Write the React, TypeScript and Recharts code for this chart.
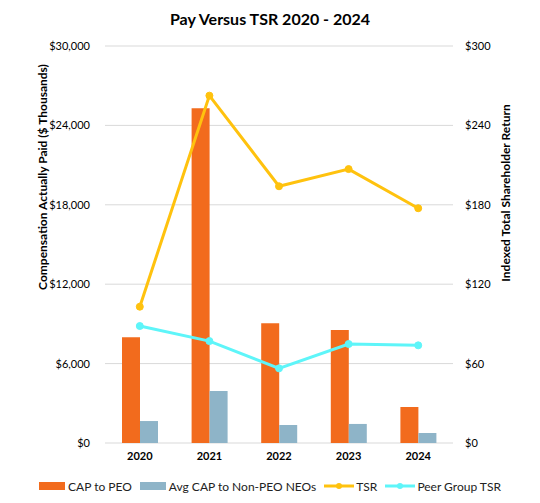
import React from 'react';
import { ComposedChart, Bar, Line, XAxis, YAxis, CartesianGrid, Legend } from 'recharts';

const years = ['2020', '2021', '2022', '2023', '2024'];
const capPeo = [8000, 25300, 9050, 8540, 2720];
const capNeo = [1660, 3930, 1360, 1440, 755];
const tsr = [103, 262.5, 194, 207, 177.4];
const peerTsr = [88.4, 77, 56.4, 74.8, 73.8];
const leftTicks = [0, 6000, 12000, 18000, 24000, 30000];
const rightTicks = [0, 60, 120, 180, 240, 300];
const seriesOrder = ['CAP to PEO', 'Avg CAP to Non-PEO NEOs', 'TSR', 'Peer Group TSR'];

const data = years.map((y, i) => ({
  year: y,
  capPeo: capPeo[i],
  capNeo: capNeo[i],
  tsr: tsr[i],
  peer: peerTsr[i],
}));

const FONT = 'Lato, "Open Sans", sans-serif';
const ORANGE = '#F26B1D';
const BLUE = '#8EB4C8';
const YELLOW = '#FFC20E';
const CYAN = '#5EF5F9';

const renderLegend = (props: any) => {
  const items = [...(props.payload || [])].sort(
    (a: any, b: any) => seriesOrder.indexOf(a.value) - seriesOrder.indexOf(b.value)
  );
  return (
    <div style={{ display: 'flex', justifyContent: 'center', alignItems: 'center', height: 20, fontFamily: FONT, fontSize: 12, color: '#222' }}>
      {items.map((it: any, i: number) => (
        <div key={i} style={{ display: 'flex', alignItems: 'center', marginRight: i < items.length - 1 ? 8 : 0 }}>
          {it.type === 'line' ? (
            <svg width={30} height={10} style={{ marginRight: 2 }}>
              <line x1={0} y1={5} x2={30} y2={5} stroke={it.color} strokeWidth={3} />
              <circle cx={15} cy={5} r={3} fill={it.color} />
            </svg>
          ) : (
            <svg width={26} height={10} style={{ marginRight: 3 }}>
              <rect x={0} y={1} width={26} height={8} fill={it.color} />
            </svg>
          )}
          <span>{it.value}</span>
        </div>
      ))}
    </div>
  );
};

export default function App() {
  return (
    <div style={{ position: 'absolute', left: 0, top: 0, width: 540, height: 503, background: '#fff' }}>
      <div style={{ position: 'absolute', left: 0, top: 9, width: 540, textAlign: 'center', fontFamily: FONT, fontWeight: 700, fontSize: 16, color: '#000' }}>
        Pay Versus TSR 2020 - 2024
      </div>
      <div style={{ position: 'absolute', left: 42, top: 177, transform: 'translate(-50%, -50%) rotate(-90deg)', whiteSpace: 'nowrap', fontFamily: FONT, fontWeight: 700, fontSize: 12, color: '#000' }}>
        Compensation Actually Paid ($ Thousands)
      </div>
      <div style={{ position: 'absolute', left: 505, top: 193, transform: 'translate(-50%, -50%) rotate(-90deg)', whiteSpace: 'nowrap', fontFamily: FONT, fontWeight: 700, fontSize: 12, color: '#000' }}>
        Indexed Total Shareholder Return
      </div>
      <ComposedChart
        width={540}
        height={503}
        data={data}
        margin={{ top: 46, right: 27, left: 45, bottom: 20 }}
        barGap={0}
        style={{ position: 'absolute', left: 0, top: 0 }}
      >
        <CartesianGrid horizontal vertical={false} stroke="#D9D9D9" yAxisId="left" />
        <XAxis
          dataKey="year"
          axisLine={false}
          tickLine={false}
          tickSize={0}
          tickMargin={9}
          height={20}
          tick={{ fontFamily: FONT, fontSize: 11, fontWeight: 700, fill: '#000' }}
        />
        <YAxis
          yAxisId="left"
          domain={[0, 30000]}
          ticks={leftTicks}
          width={60}
          axisLine={false}
          tickLine={false}
          tickSize={0}
          tickMargin={15}
          tickFormatter={(v: number) => '$' + v.toLocaleString('en-US')}
          tick={{ fontFamily: FONT, fontSize: 11, fill: '#000' }}
        />
        <YAxis
          yAxisId="right"
          orientation="right"
          domain={[0, 300]}
          ticks={rightTicks}
          width={60}
          axisLine={false}
          tickLine={false}
          tickSize={0}
          tickMargin={12}
          tickFormatter={(v: number) => '$' + v}
          tick={{ fontFamily: FONT, fontSize: 11, fill: '#000' }}
        />
        <Bar yAxisId="left" dataKey="capPeo" name="CAP to PEO" fill={ORANGE} barSize={18} isAnimationActive={false} legendType="rect" />
        <Bar yAxisId="left" dataKey="capNeo" name="Avg CAP to Non-PEO NEOs" fill={BLUE} barSize={18} isAnimationActive={false} legendType="rect" />
        <Line yAxisId="right" dataKey="tsr" name="TSR" stroke={YELLOW} strokeWidth={3} dot={{ r: 3.5, fill: YELLOW, stroke: YELLOW, strokeWidth: 1 }} isAnimationActive={false} legendType="line" />
        <Line yAxisId="right" dataKey="peer" name="Peer Group TSR" stroke={CYAN} strokeWidth={3} dot={{ r: 3.5, fill: CYAN, stroke: CYAN, strokeWidth: 1 }} isAnimationActive={false} legendType="line" />
        <Legend
          verticalAlign="bottom"
          height={20}
          content={renderLegend}
          wrapperStyle={{ position: 'absolute', left: 0, top: 476, width: 540 }}
        />
      </ComposedChart>
    </div>
  );
}
